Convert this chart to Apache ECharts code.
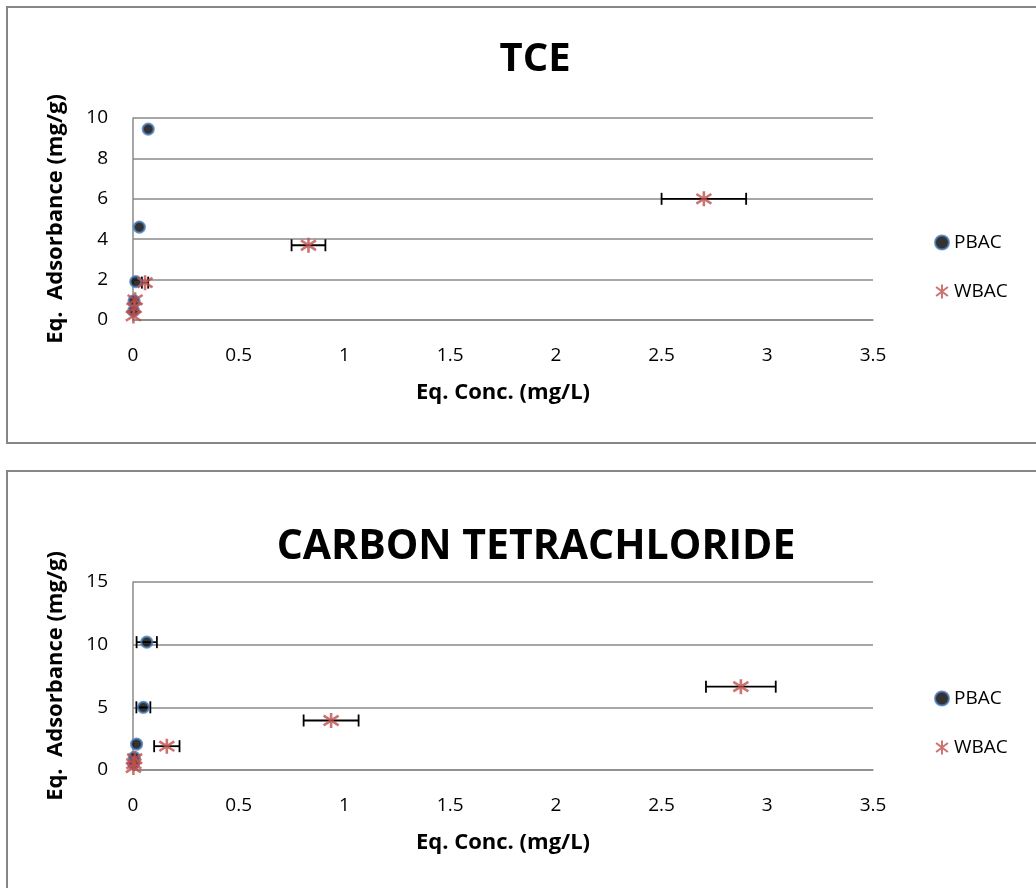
<!DOCTYPE html>
<html>
<head>
<meta charset="utf-8">
<script src="https://cdn.jsdelivr.net/npm/echarts@6/dist/echarts.min.js"></script>
<style>html,body{margin:0;padding:0;background:#fff;}#c{width:1036px;height:888px;}</style>
</head>
<body>
<div id="c"></div>
<script>
// ---- Data ----
var seriesNames = ['PBAC', 'WBAC'];
var titles = ['TCE', 'CARBON TETRACHLORIDE'];
var xTicks = [0, 0.5, 1, 1.5, 2, 2.5, 3, 3.5];
var yTicksTCE = [0, 2, 4, 6, 8, 10];
var yTicksCT = [0, 5, 10, 15];

// TCE: [x, y, xError]
var tcePBAC = [[0.072, 9.45, 0], [0.03, 4.6, 0], [0.013, 1.9, 0], [0.005, 0.95, 0], [0.003, 0.45, 0]];
var tceWBAC = [[2.70, 6.0, 0.20], [0.83, 3.7, 0.08], [0.057, 1.85, 0.015], [0.01, 1.0, 0], [0.005, 0.6, 0], [0.002, 0.2, 0]];

// Carbon tetrachloride: [x, y, xError]
var ctPBAC = [[0.065, 10.2, 0.048], [0.049, 5.0, 0.033], [0.017, 2.07, 0], [0.006, 1.0, 0], [0.003, 0.5, 0]];
var ctWBAC = [[2.875, 6.65, 0.165], [0.937, 3.95, 0.13], [0.16, 1.9, 0.06], [0.008, 0.9, 0], [0.004, 0.5, 0], [0.002, 0.2, 0]];

var FONT = '"Open Sans", "DejaVu Sans", sans-serif';
var GRID_COLOR = '#8a8a8a';
var asterisk = 'path://M5,0 L5,10 M0.8,1.8 L9.2,8.2 M0.8,8.2 L9.2,1.8';

function pts(arr) { return arr.map(function (d) { return [d[0], d[1]]; }); }
function errs(arr) { return arr.filter(function (d) { return d[2] > 0; }); }

function errorSeries(arr, gi) {
  return {
    type: 'custom',
    xAxisIndex: gi, yAxisIndex: gi,
    silent: true,
    z: 1,
    data: errs(arr),
    renderItem: function (params, api) {
      var x = api.value(0), y = api.value(1), e = api.value(2);
      var lo = api.coord([x - e, y]);
      var hi = api.coord([x + e, y]);
      var cap = 6;
      var st = { stroke: '#000', lineWidth: 1.8 };
      return {
        type: 'group',
        children: [
          { type: 'line', shape: { x1: lo[0], y1: lo[1], x2: hi[0], y2: hi[1] }, style: st },
          { type: 'line', shape: { x1: lo[0], y1: lo[1] - cap, x2: lo[0], y2: lo[1] + cap }, style: st },
          { type: 'line', shape: { x1: hi[0], y1: hi[1] - cap, x2: hi[0], y2: hi[1] + cap }, style: st }
        ]
      };
    }
  };
}

function pbacSeries(arr, gi) {
  return {
    name: seriesNames[0], type: 'scatter', xAxisIndex: gi, yAxisIndex: gi, z: 3,
    symbol: 'circle', symbolSize: 11,
    itemStyle: { color: '#000', borderColor: '#4a7ebb', borderWidth: 2.2 },
    data: pts(arr)
  };
}
function wbacSeries(arr, gi) {
  return {
    name: seriesNames[1], type: 'scatter', xAxisIndex: gi, yAxisIndex: gi, z: 3,
    symbol: asterisk, symbolSize: 15,
    itemStyle: { color: 'rgba(0,0,0,0)', borderColor: '#c0504d', borderWidth: 2.6 },
    data: pts(arr)
  };
}

function xAxis(gi) {
  return {
    type: 'value', gridIndex: gi, min: xTicks[0], max: xTicks[xTicks.length - 1], interval: 0.5,
    name: 'Eq. Conc. (mg/L)', nameLocation: 'middle', nameGap: 62,
    nameTextStyle: { fontFamily: FONT, fontWeight: 'bold', fontSize: 22, color: '#000' },
    axisLine: { show: true, lineStyle: { color: GRID_COLOR, width: 1.5 } },
    axisTick: { show: false },
    splitLine: { show: false },
    axisLabel: { fontFamily: FONT, fontSize: 19, color: '#000', margin: 26 }
  };
}
function yAxis(gi, ticks, interval) {
  return {
    type: 'value', gridIndex: gi, min: ticks[0], max: ticks[ticks.length - 1], interval: interval,
    name: 'Eq.  Adsorbance (mg/g)', nameLocation: 'middle', nameGap: 66,
    nameTextStyle: { fontFamily: FONT, fontWeight: 'bold', fontSize: 22, color: '#000' },
    axisLine: { show: true, lineStyle: { color: GRID_COLOR, width: 1.5 } },
    axisTick: { show: false },
    splitLine: { show: true, lineStyle: { color: GRID_COLOR, width: 1.5 } },
    axisLabel: { fontFamily: FONT, fontSize: 19, color: '#000', margin: 25 }
  };
}

var chart = echarts.init(document.getElementById('c'), null, { renderer: 'canvas' });
chart.setOption({
  backgroundColor: '#fff',
  animation: false,
  graphic: [
    { type: 'rect', shape: { x: 7, y: 7, width: 1040, height: 436 }, style: { fill: 'none', stroke: '#868686', lineWidth: 2 }, silent: true },
    { type: 'rect', shape: { x: 7, y: 471, width: 1040, height: 440 }, style: { fill: 'none', stroke: '#868686', lineWidth: 2 }, silent: true }
  ],
  title: [
    { text: titles[0], left: 530, textAlign: 'center', top: 35, textStyle: { fontFamily: FONT, fontWeight: 'bold', fontSize: 40, color: '#000' } },
    { text: titles[1], left: 531, textAlign: 'center', top: 522, textStyle: { fontFamily: FONT, fontWeight: 'bold', fontSize: 41, color: '#000' } }
  ],
  legend: [
    { data: seriesNames, orient: 'vertical', left: 929, top: 228, itemGap: 30, itemWidth: 14, itemHeight: 14,
      textStyle: { fontFamily: FONT, fontSize: 19, color: '#000' } },
    { data: seriesNames, orient: 'vertical', left: 929, top: 684, itemGap: 30, itemWidth: 14, itemHeight: 14,
      textStyle: { fontFamily: FONT, fontSize: 19, color: '#000' } }
  ],
  grid: [
    { left: 133, top: 118, width: 740, height: 202 },
    { left: 133, top: 582, width: 740, height: 188 }
  ],
  xAxis: [xAxis(0), xAxis(1)],
  yAxis: [yAxis(0, yTicksTCE, 2), yAxis(1, yTicksCT, 5)],
  series: [
    errorSeries(tceWBAC, 0), errorSeries(tcePBAC, 0),
    pbacSeries(tcePBAC, 0), wbacSeries(tceWBAC, 0),
    errorSeries(ctWBAC, 1), errorSeries(ctPBAC, 1),
    pbacSeries(ctPBAC, 1), wbacSeries(ctWBAC, 1)
  ]
});
</script>
</body>
</html>
